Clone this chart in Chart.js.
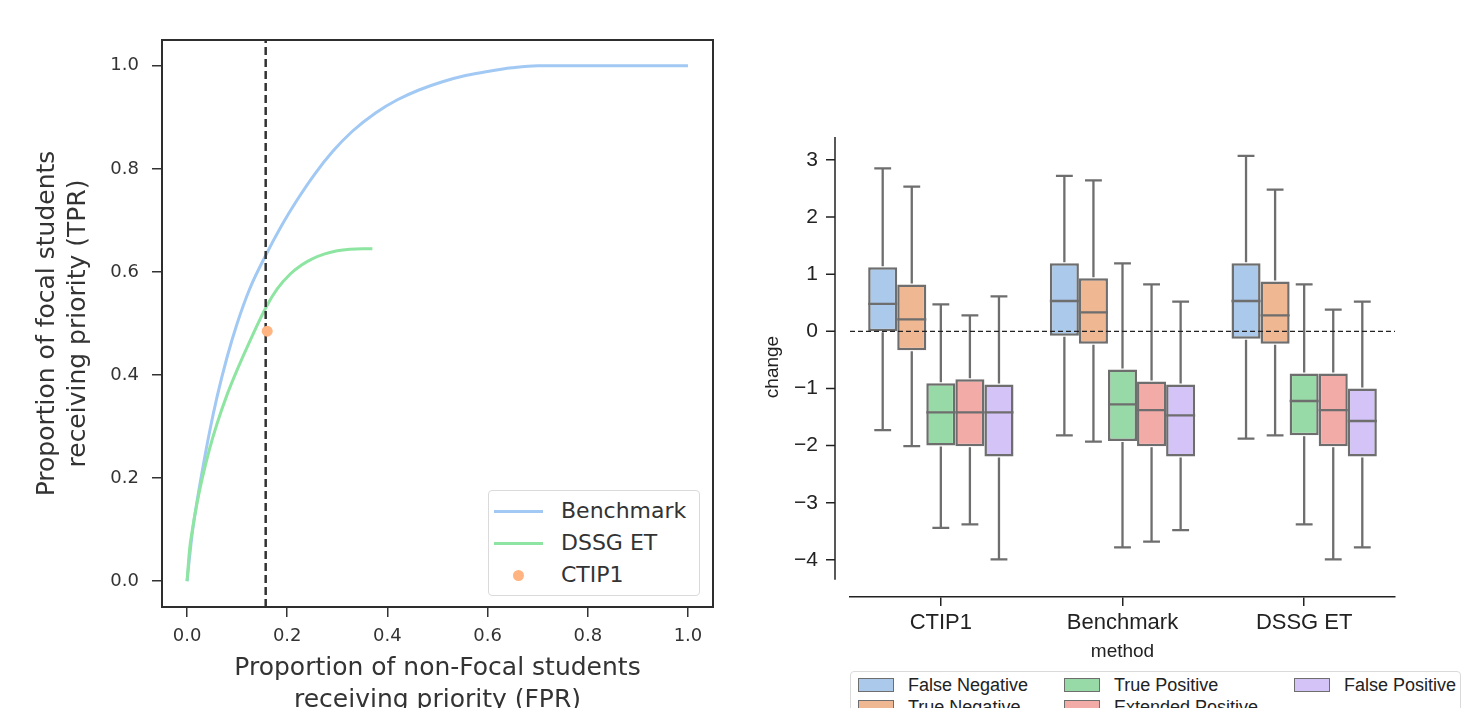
<!DOCTYPE html>
<html>
<head>
<meta charset="utf-8">
<script src="https://cdn.jsdelivr.net/npm/chart.js@4.4.1/dist/chart.umd.min.js"></script>
<style>
    html, body { margin: 0; padding: 0; background: #fff; width: 1465px; height: 708px; overflow: hidden; }
    #roc { position: absolute; left: 0; top: 0; }
    #box { position: absolute; left: 740px; top: 0; }
    .legend { position: absolute; background: #fff; border: 1px solid #dadada; border-radius: 4px; box-sizing: border-box; }
    .legend span { position: absolute; white-space: nowrap; }
    #rocLegend { left: 488px; top: 490px; width: 212px; height: 106px; font: 22px "DejaVu Sans"; color: #333; }
    #boxLegend { left: 850px; top: 671px; width: 611px; height: 70px; font: 18px "Liberation Sans"; color: #222; }
</style>
</head>
<body>
<canvas id="roc" width="740" height="760"></canvas>
<canvas id="box" width="725" height="708"></canvas>
<div id="rocLegend" class="legend"></div>
<div id="boxLegend" class="legend"></div>
<script>
// --- courbe ROC (gauche) ---
const benchmarkX = [0, 0.01, 0.02, 0.03, 0.045, 0.06, 0.08, 0.1, 0.125, 0.158, 0.19, 0.22, 0.255, 0.291, 0.33, 0.377, 0.42, 0.463, 0.51, 0.556, 0.6, 0.649, 0.7, 0.75, 1.0];
const benchmarkY = [0, 0.09, 0.155, 0.212, 0.29, 0.358, 0.435, 0.5, 0.567, 0.634, 0.692, 0.74, 0.79, 0.834, 0.873, 0.909, 0.934, 0.953, 0.969, 0.981, 0.989, 0.996, 1.0, 1.0, 1.0];
const dssgX = [0, 0.005, 0.01, 0.02, 0.03, 0.045, 0.06, 0.08, 0.1, 0.125, 0.158, 0.18, 0.206, 0.228, 0.249, 0.275, 0.3, 0.325, 0.35, 0.37];
const dssgY = [0, 0.061, 0.096, 0.152, 0.198, 0.257, 0.306, 0.362, 0.41, 0.465, 0.532, 0.567, 0.596, 0.613, 0.625, 0.635, 0.641, 0.644, 0.645, 0.645];
const ctipPoint = { x: 0.16, y: 0.485 };
const cutoffFPR = 0.157;
const rocTicks = [0, 0.2, 0.4, 0.6, 0.8, 1.0];
const rocSeries = ["Benchmark", "DSSG ET", "CTIP1"];

// --- boxplots (droite) ---
const methods = ["CTIP1", "Benchmark", "DSSG ET"];
const outcomes = ["False Negative", "True Negative", "True Positive", "Extended Positive", "False Positive"];
// [outcome][method]
const whiskerLow = [[-1.73, -1.82, -1.88], [-2.01, -1.93, -1.82], [-3.44, -3.78, -3.38], [-3.38, -3.68, -3.99], [-3.99, -3.48, -3.78]];
const quart1 = [[0.0, -0.08, -0.13], [-0.33, -0.22, -0.22], [-2.0, -1.92, -1.82], [-2.01, -2.01, -2.01], [-2.19, -2.19, -2.19]];
const medians = [[0.48, 0.53, 0.53], [0.21, 0.33, 0.28], [-1.42, -1.28, -1.22], [-1.42, -1.38, -1.38], [-1.42, -1.47, -1.57]];
const quart3 = [[1.12, 1.19, 1.19], [0.82, 0.93, 0.87], [-0.91, -0.67, -0.74], [-0.84, -0.88, -0.74], [-0.93, -0.93, -1.0]];
const whiskerHigh = [[2.85, 2.72, 3.07], [2.53, 2.64, 2.48], [0.47, 1.19, 0.82], [0.28, 0.82, 0.38], [0.61, 0.52, 0.52]];
const changeTicks = [-4, -3, -2, -1, 0, 1, 2, 3];

const lineColors = ["#a1c9f4", "#8de5a1", "#ffb482"];
const boxColors = ["#abc9ea", "#efb792", "#98daa7", "#f3aba8", "#d3c3f6"];
const boxEdge = "#6e6e6e";

const toXY = (xs, ys) => xs.map((x, i) => ({ x: x, y: ys[i] }));

// cadre complet autour de la zone de tracé
const frame = {
    id: "frame",
    afterDraw(chart) {
        const { ctx, chartArea: a } = chart;
        ctx.save();
        ctx.strokeStyle = "#2e2e2e";
        ctx.lineWidth = 2;
        ctx.strokeRect(a.left, a.top, a.right - a.left, a.bottom - a.top);
        ctx.restore();
    }
};

new Chart(document.getElementById("roc"), {
    type: "scatter",
    data: {
        datasets: [
            { label: rocSeries[2], data: [ctipPoint], backgroundColor: lineColors[2], pointRadius: 5.5, pointBorderWidth: 0, order: 0 },
            { label: "cutoff", data: [{ x: cutoffFPR, y: -0.05 }, { x: cutoffFPR, y: 1.05 }], showLine: true, borderColor: "#333", borderWidth: 2.5, borderDash: [8, 4], pointRadius: 0, order: 1 },
            { label: rocSeries[1], data: toXY(dssgX, dssgY), showLine: true, borderColor: lineColors[1], borderWidth: 3, pointRadius: 0, cubicInterpolationMode: "monotone", order: 2 },
            { label: rocSeries[0], data: toXY(benchmarkX, benchmarkY), showLine: true, borderColor: lineColors[0], borderWidth: 3, pointRadius: 0, cubicInterpolationMode: "monotone", order: 3 }
        ]
    },
    options: {
        responsive: false,
        animation: false,
        layout: { padding: { top: 40, right: 27, left: 0, bottom: 0 } },
        plugins: { legend: { display: false }, tooltip: { enabled: false } },
        scales: {
            x: {
                min: -0.05, max: 1.05,
                afterBuildTicks: (s) => { s.ticks = rocTicks.map(v => ({ value: v })); },
                afterFit: (s) => { s.height = 153; },
                grid: { drawOnChartArea: false, drawTicks: true, tickLength: 10, color: "#333", lineWidth: 1.5 },
                border: { display: false },
                ticks: { padding: 9, color: "#333", font: { family: "DejaVu Sans", size: 18 }, callback: (v) => v.toFixed(1) },
                title: { display: true, text: ["Proportion of non-Focal students", "receiving priority (FPR)"], color: "#333", font: { family: "DejaVu Sans", size: 25, lineHeight: 1.3 }, padding: { top: 0, bottom: 43 } }
            },
            y: {
                min: -0.05, max: 1.05,
                afterBuildTicks: (s) => { s.ticks = rocTicks.map(v => ({ value: v })); },
                afterFit: (s) => { s.width = 162; },
                grid: { drawOnChartArea: false, drawTicks: true, tickLength: 10, color: "#333", lineWidth: 1.5 },
                border: { display: false },
                ticks: { padding: 13, color: "#333", font: { family: "DejaVu Sans", size: 18 }, callback: (v) => v.toFixed(1) },
                title: { display: true, text: ["Proportion of focal students", "receiving priority (TPR)"], color: "#333", font: { family: "DejaVu Sans", size: 25, lineHeight: 1.25 }, padding: { top: 32, bottom: 0 } }
            }
        }
    },
    plugins: [frame]
});

// moustaches, médianes, ligne zéro et axe gauche décalé
const boxExtras = {
    id: "boxExtras",
    afterDatasetsDraw(chart) {
        const { ctx, chartArea: a, scales: { y } } = chart;
        ctx.save();
        ctx.strokeStyle = boxEdge;
        ctx.lineWidth = 2.3;
        chart.data.datasets.forEach((ds, h) => {
            chart.getDatasetMeta(h).data.forEach((bar, c) => {
                const { x, width } = bar.getProps(["x", "width"], true);
                const cap = width * 0.29;
                const yLo = y.getPixelForValue(whiskerLow[h][c]);
                const yHi = y.getPixelForValue(whiskerHigh[h][c]);
                const yMed = y.getPixelForValue(medians[h][c]);
                ctx.beginPath();
                ctx.moveTo(x, y.getPixelForValue(quart1[h][c]) + 1); ctx.lineTo(x, yLo);
                ctx.moveTo(x - cap, yLo); ctx.lineTo(x + cap, yLo);
                ctx.moveTo(x, y.getPixelForValue(quart3[h][c]) - 1); ctx.lineTo(x, yHi);
                ctx.moveTo(x - cap, yHi); ctx.lineTo(x + cap, yHi);
                ctx.moveTo(x - width / 2, yMed); ctx.lineTo(x + width / 2, yMed);
                ctx.stroke();
            });
        });
        // ligne de référence à zéro
        const y0 = y.getPixelForValue(0);
        ctx.strokeStyle = "#222";
        ctx.lineWidth = 1.2;
        ctx.setLineDash([5, 3]);
        ctx.beginPath();
        ctx.moveTo(a.left, y0); ctx.lineTo(a.right, y0);
        ctx.stroke();
        ctx.restore();
    },
    afterDraw(chart) {
        const { ctx, chartArea: a, scales: { y } } = chart;
        const ax = a.left - 15;
        ctx.save();
        ctx.strokeStyle = "#222";
        ctx.lineWidth = 1.5;
        ctx.beginPath();
        ctx.moveTo(ax, y.getPixelForValue(3.4)); ctx.lineTo(ax, y.getPixelForValue(-4.35));
        y.ticks.forEach(t => {
            const py = y.getPixelForValue(t.value);
            ctx.moveTo(ax - 9, py); ctx.lineTo(ax, py);
        });
        ctx.stroke();
        ctx.restore();
    }
};

new Chart(document.getElementById("box"), {
    type: "bar",
    data: {
        labels: methods,
        datasets: outcomes.map((name, h) => ({
            label: name,
            data: methods.map((m, c) => [quart1[h][c], quart3[h][c]]),
            backgroundColor: boxColors[h],
            borderColor: boxEdge,
            borderWidth: 2.5,
            borderSkipped: false,
            categoryPercentage: 0.8,
            barPercentage: 1.0
        }))
    },
    options: {
        responsive: false,
        animation: false,
        layout: { padding: { top: 137, right: 70, left: 0, bottom: 0 } },
        plugins: { legend: { display: false }, tooltip: { enabled: false } },
        scales: {
            x: {
                afterFit: (s) => { s.height = 111; },
                grid: { offset: false, drawOnChartArea: false, drawTicks: true, tickLength: 9, color: "#222", lineWidth: 1.5 },
                border: { display: true, color: "#222", width: 1.5 },
                ticks: { padding: 4, color: "#222", font: { family: "Liberation Sans", size: 22 } },
                title: { display: true, text: "method", color: "#222", font: { family: "Liberation Sans", size: 19 }, padding: { top: 0, bottom: 45 } }
            },
            y: {
                min: -4.65, max: 3.4,
                afterBuildTicks: (s) => { s.ticks = changeTicks.map(v => ({ value: v })); },
                afterFit: (s) => { s.width = 110; },
                grid: { display: false, drawTicks: false },
                border: { display: false },
                ticks: { padding: 32, color: "#222", font: { family: "Liberation Sans", size: 21 }, callback: (v) => v < 0 ? "\u2212" + Math.abs(v) : String(v) },
                title: { display: true, text: "change", color: "#222", font: { family: "Liberation Sans", size: 19 }, padding: { top: 21, bottom: 0 } }
            }
        }
    },
    plugins: [boxExtras]
});

// légendes
const rocLegend = document.getElementById("rocLegend");
rocSeries.forEach((name, i) => {
    const cy = 20 + i * 32;
    const mark = document.createElement("span");
    if (i < 2) {
        mark.style.cssText = `left:5px;top:${cy - 1.5}px;width:49px;height:3px;background:${lineColors[i]}`;
    } else {
        mark.style.cssText = `left:24px;top:${cy - 5.5}px;width:11px;height:11px;border-radius:50%;background:${lineColors[i]}`;
    }
    const txt = document.createElement("span");
    txt.textContent = name;
    txt.style.cssText = `left:72px;top:${cy - 14}px;line-height:28px`;
    rocLegend.append(mark, txt);
});

const boxLegend = document.getElementById("boxLegend");
const colPatch = [7, 213, 443];
outcomes.forEach((name, h) => {
    const col = Math.floor(h / 2), row = h % 2;
    const cy = 13 + row * 22;
    const patch = document.createElement("span");
    patch.style.cssText = `left:${colPatch[col]}px;top:${cy - 7}px;width:34px;height:12px;background:${boxColors[h]};border:1px solid ${boxEdge}`;
    const txt = document.createElement("span");
    txt.textContent = name;
    txt.style.cssText = `left:${colPatch[col] + 50}px;top:${cy - 11}px;line-height:22px`;
    boxLegend.append(patch, txt);
});
</script>
</body>
</html>
